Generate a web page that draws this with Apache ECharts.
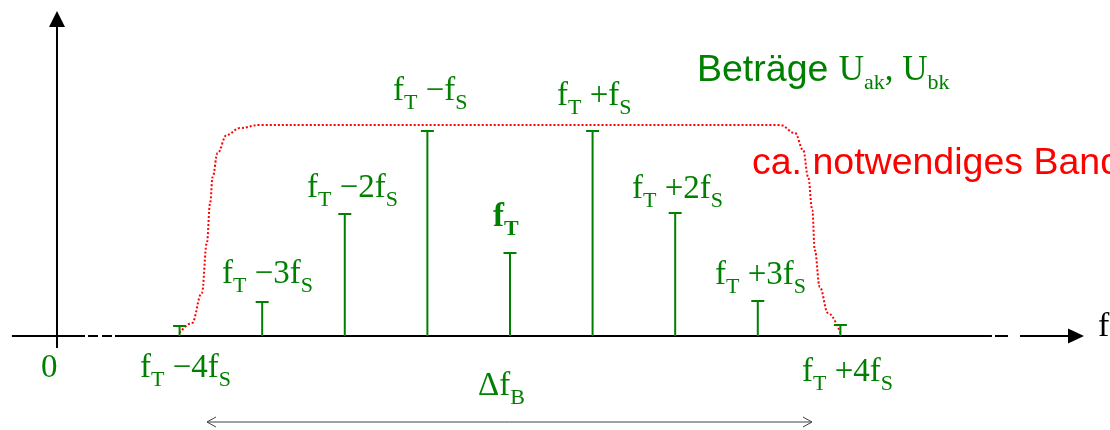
<!DOCTYPE html>
<html><head><meta charset="utf-8">
<script src="https://cdn.jsdelivr.net/npm/echarts@6/dist/echarts.min.js"></script>
<style>html,body{margin:0;padding:0;background:#fff}#c{width:1110px;height:430px}</style>
</head><body><div id="c"></div>
<script>
// ---------- data (x in units of fS relative to fT, y = amplitude) ----------
const sidebandOrders = [-4, -3, -2, -1, 0, 1, 2, 3, 4];
const sidebandAmplitudes = [0.10, 0.34, 1.22, 2.05, 0.83, 2.05, 1.23, 0.35, 0.11];
const sidebandLabels = [
  '{m|f}{s|T}{m| −4f}{s|S}',
  '{m|f}{s|T}{m| −3f}{s|S}',
  '{m|f}{s|T}{m| −2f}{s|S}',
  '{m|f}{s|T}{m| −f}{s|S}',
  '{mb|f}{sb|T}',
  '{m|f}{s|T}{m| +f}{s|S}',
  '{m|f}{s|T}{m| +2f}{s|S}',
  '{m|f}{s|T}{m| +3f}{s|S}',
  '{m|f}{s|T}{m| +4f}{s|S}'
];
const envelopeX = [-4.0, -3.85, -3.73, -3.67, -3.63, -3.60, -3.54, -3.43, -3.27, -3.03, 3.27, 3.45, 3.55, 3.61, 3.66, 3.69, 3.75, 3.85, 4.0];
const envelopeY = [0.03, 0.13, 0.43, 0.93, 1.33, 1.59, 1.83, 2.01, 2.08, 2.11, 2.11, 2.03, 1.86, 1.59, 1.26, 0.86, 0.49, 0.23, 0.03];
const originX = -5.484;
const bandEdges = [-3.668, 3.656];
const otherTexts = {
  zero: '{m|0}',
  band: '{m|Δf}{s|B}',
  axisName: '{k|f}',
  title: '{b|Beträge }{u|U}{us|ak}{u|, U}{us|bk}',
  required: 'ca. notwendiges Band'
};

// ---------- layout ----------
const X_MIN = -6.174, X_MAX = 7.264, Y_MIN = -0.94, Y_MAX = 3.36;
const axisSolid = [[-6.03, -5.145], [-4.782, 5.835], [6.174, 6.78]];
const axisDashes = [[-5.109, -4.988], [-4.939, -4.818], [5.872, 6.029]];
const labelPos = [[140, 379], [222, 285], [307, 199], [393, 102], [493, 228], [557, 107], [632, 200], [715, 286], [802, 383]];
const GREEN = '#008000', RED = '#ff0000';
const SERIF = '"Liberation Serif","Times New Roman",serif';
const SANS = '"Liberation Sans",Arial,sans-serif';

function rs(size, color, bold, lh, va, family) {
  return { fontFamily: family || SERIF, fontSize: size, fontWeight: bold ? 'bold' : 'normal',
    fill: color, color: color, lineHeight: lh, verticalAlign: va };
}
const richG = {
  m: rs(33, GREEN, false, 46, 'middle'), s: rs(22, GREEN, false, 20, 'bottom'),
  mb: rs(33, GREEN, true, 46, 'middle'), sb: rs(22, GREEN, true, 20, 'bottom'),
  k: rs(34, '#000', false, 46, 'middle'),
  b: rs(37.5, GREEN, false, 46, 'middle', SANS), u: rs(35, GREEN, false, 46, 'middle'), us: rs(22, GREEN, false, 16, 'bottom')
};
function txt(text, x, baseline) {
  return { type: 'text', x: x, y: baseline - 34, silent: true,
    style: { text: text, rich: richG, align: 'left', verticalAlign: 'top' } };
}

const graphics = sidebandLabels.map((t, i) => txt(t, labelPos[i][0], labelPos[i][1]));
graphics.push(txt(otherTexts.zero, 41, 379));
graphics.push(txt(otherTexts.band, 478, 397));
graphics.push(txt(otherTexts.axisName, 1098, 338));
graphics.push(txt(otherTexts.title, 697, 82));
graphics.push({ type: 'text', x: 752, y: 175 - 34, silent: true,
  style: { text: otherTexts.required, font: '37.5px ' + SANS, fill: RED, align: 'left', verticalAlign: 'top', lineHeight: 46 } });

const chart = echarts.init(document.getElementById('c'), null, { renderer: 'canvas' });
chart.setOption({
  animation: false,
  backgroundColor: '#fff',
  grid: { left: 0, right: 0, top: 0, bottom: 0 },
  xAxis: { type: 'value', min: X_MIN, max: X_MAX, show: false },
  yAxis: { type: 'value', min: Y_MIN, max: Y_MAX, show: false },
  graphic: graphics,
  series: [
    { // axes
      type: 'custom', clip: false, silent: true, z: 1,
      data: [[0]],
      renderItem: function (params, api) {
        const ch = [];
        axisSolid.concat(axisDashes).forEach(s => {
          const a = api.coord([s[0], 0]), b = api.coord([s[1], 0]);
          ch.push({ type: 'line', shape: { x1: a[0], y1: a[1], x2: b[0], y2: b[1] }, style: { stroke: '#000', lineWidth: 2 } });
        });
        const end = api.coord([axisSolid[2][1], 0]);
        ch.push({ type: 'polygon', shape: { points: [[end[0] - 2, end[1] - 7.5], [end[0] + 14, end[1]], [end[0] - 2, end[1] + 7.5]] }, style: { fill: '#000' } });
        const vb = api.coord([originX, -0.12]), vt = api.coord([originX, 3.10]);
        ch.push({ type: 'line', shape: { x1: vb[0], y1: vb[1], x2: vt[0], y2: vt[1] + 1 }, style: { stroke: '#000', lineWidth: 2 } });
        ch.push({ type: 'polygon', shape: { points: [[vt[0] - 8, vt[1] + 1], [vt[0], vt[1] - 15], [vt[0] + 8, vt[1] + 1]] }, style: { fill: '#000' } });
        // bandwidth double arrow
        const l = api.coord([bandEdges[0], -0.86]), r = api.coord([bandEdges[1], -0.86]);
        const st = { stroke: '#404040', lineWidth: 1, fill: null };
        ch.push({ type: 'line', shape: { x1: l[0], y1: l[1], x2: r[0], y2: r[1] }, style: st });
        ch.push({ type: 'polyline', shape: { points: [[l[0] + 9, l[1] - 5], [l[0], l[1]], [l[0] + 9, l[1] + 5]] }, style: st });
        ch.push({ type: 'polyline', shape: { points: [[r[0] - 9, r[1] - 5], [r[0], r[1]], [r[0] - 9, r[1] + 5]] }, style: st });
        return { type: 'group', children: ch };
      }
    },
    { // envelope
      type: 'line', z: 3, silent: true, showSymbol: false, smooth: 0.4, smoothMonotone: 'x',
      data: envelopeX.map((x, i) => [x, envelopeY[i]]),
      lineStyle: { color: RED, width: 2, type: [2, 2] }
    },
    { // spectral lines
      type: 'custom', z: 4, silent: true,
      data: sidebandOrders.map((k, i) => [k, sidebandAmplitudes[i]]),
      renderItem: function (params, api) {
        const k = api.value(0), a = api.value(1);
        const p0 = api.coord([k, 0]), p1 = api.coord([k, a]);
        return { type: 'group', children: [
          { type: 'line', shape: { x1: p0[0], y1: p0[1], x2: p1[0], y2: p1[1] }, style: { stroke: GREEN, lineWidth: 2 } },
          { type: 'line', shape: { x1: p1[0] - 6.5, y1: p1[1], x2: p1[0] + 6.5, y2: p1[1] }, style: { stroke: GREEN, lineWidth: 2 } }
        ] };
      }
    }
  ]
});
</script></body></html>
